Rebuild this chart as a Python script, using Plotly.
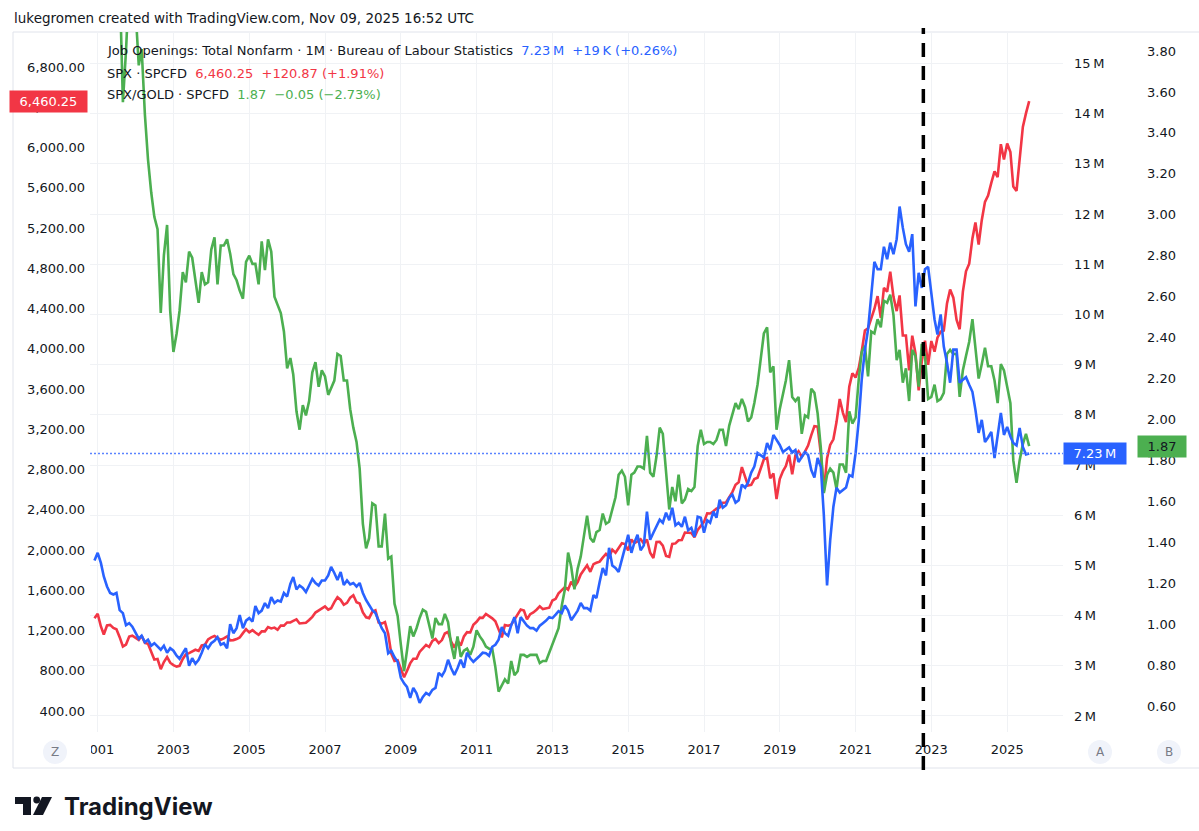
import pandas as pd
import plotly.graph_objects as go

# monthly bars, Dec 2000 .. Aug 2025
months = pd.date_range("2000-12-01", "2025-08-01", freq="MS")

# SPX monthly close
spx = [
    1320.28,
    1366.01, 1239.94, 1160.33, 1249.46, 1255.82, 1224.42, 1211.23, 1133.58, 1040.94, 1059.78, 1139.45, 1148.08,
    1130.20, 1106.73, 1147.39, 1076.92, 1067.14, 989.82, 911.62, 916.07, 815.28, 885.76, 936.31, 879.82,
    855.70, 841.15, 848.18, 916.92, 963.59, 974.50, 990.31, 1008.01, 995.97, 1050.71, 1058.20, 1111.92,
    1131.13, 1144.94, 1126.21, 1107.30, 1120.68, 1140.84, 1101.72, 1104.24, 1114.58, 1130.20, 1173.82, 1211.92,
    1181.27, 1203.60, 1180.59, 1156.85, 1191.50, 1191.33, 1234.18, 1220.33, 1228.81, 1207.01, 1249.48, 1248.29,
    1280.08, 1280.66, 1294.83, 1310.61, 1270.09, 1270.20, 1276.66, 1303.82, 1335.85, 1377.94, 1400.63, 1418.30,
    1438.24, 1406.82, 1420.86, 1482.37, 1530.62, 1503.35, 1455.27, 1473.99, 1526.75, 1549.38, 1481.14, 1468.36,
    1378.55, 1330.63, 1322.70, 1385.59, 1400.38, 1280.00, 1267.38, 1282.83, 1166.36, 968.75, 896.24, 903.25,
    825.88, 735.09, 797.87, 872.81, 919.14, 919.32, 987.48, 1020.62, 1057.08, 1036.19, 1095.63, 1115.10,
    1073.87, 1104.49, 1169.43, 1186.69, 1089.41, 1030.71, 1101.60, 1049.33, 1141.20, 1183.26, 1180.55, 1257.64,
    1286.12, 1327.22, 1325.83, 1363.61, 1345.20, 1320.64, 1292.28, 1218.89, 1131.42, 1253.30, 1246.96, 1257.60,
    1312.41, 1365.68, 1408.47, 1397.91, 1310.33, 1362.16, 1379.32, 1406.58, 1440.67, 1412.16, 1416.18, 1426.19,
    1498.11, 1514.68, 1569.19, 1597.57, 1630.74, 1606.28, 1685.73, 1632.97, 1681.55, 1756.54, 1805.81, 1848.36,
    1782.59, 1859.45, 1872.34, 1883.95, 1923.57, 1960.23, 1930.67, 2003.37, 1972.29, 2018.05, 2067.56, 2058.90,
    1994.99, 2104.50, 2067.89, 2085.51, 2107.39, 2063.11, 2103.84, 1972.18, 1920.03, 2079.36, 2080.41, 2043.94,
    1940.24, 1932.23, 2059.74, 2065.30, 2096.95, 2098.86, 2173.60, 2170.95, 2168.27, 2126.15, 2198.81, 2238.83,
    2278.87, 2363.64, 2362.72, 2384.20, 2411.80, 2423.41, 2470.30, 2471.65, 2519.36, 2575.26, 2647.58, 2673.61,
    2823.81, 2713.83, 2640.87, 2648.05, 2705.27, 2718.37, 2816.29, 2901.52, 2913.98, 2711.74, 2760.17, 2506.85,
    2704.10, 2784.49, 2834.40, 2945.83, 2752.06, 2941.76, 2980.38, 2926.46, 2976.74, 3037.56, 3140.98, 3230.78,
    3225.52, 2954.22, 2584.59, 2912.43, 3044.31, 3100.29, 3271.12, 3500.31, 3363.00, 3269.96, 3621.63, 3756.07,
    3714.24, 3811.15, 3972.89, 4181.17, 4204.11, 4297.50, 4395.26, 4522.68, 4307.54, 4605.38, 4567.00, 4766.18,
    4515.55, 4373.94, 4530.41, 4131.93, 4132.15, 3785.38, 4130.29, 3955.00, 3585.62, 3871.98, 4080.11, 3839.50,
    4076.60, 3970.15, 4109.31, 4169.48, 4179.83, 4450.38, 4588.96, 4507.66, 4288.05, 4193.80, 4567.80, 4769.83,
    4845.65, 5096.27, 5254.35, 5035.69, 5277.51, 5460.48, 5522.30, 5648.40, 5762.48, 5705.45, 6032.38, 5881.63,
    6040.53, 5954.50, 5611.85, 5569.06, 5911.69, 6204.95, 6339.39, 6460.25,
]

# SPX/GOLD ratio
spx_gold = [
    4.84,
    5.14, 4.65, 4.50, 4.75, 4.69, 4.52, 4.56, 4.15, 3.55, 3.80, 4.14, 4.15,
    4.00, 3.73, 3.81, 3.49, 3.27, 3.11, 2.99, 2.93, 2.52, 2.80, 2.95, 2.53,
    2.33, 2.42, 2.53, 2.72, 2.67, 2.82, 2.79, 2.68, 2.57, 2.72, 2.66, 2.67,
    2.83, 2.89, 2.66, 2.85, 2.85, 2.88, 2.81, 2.71, 2.68, 2.63, 2.59, 2.77,
    2.80, 2.76, 2.76, 2.66, 2.87, 2.73, 2.88, 2.82, 2.60, 2.56, 2.52, 2.43,
    2.25, 2.30, 2.22, 2.04, 1.95, 2.07, 2.02, 2.09, 2.23, 2.28, 2.16, 2.24,
    2.21, 2.12, 2.15, 2.19, 2.32, 2.31, 2.19, 2.19, 2.05, 1.96, 1.89, 1.76,
    1.49, 1.37, 1.42, 1.59, 1.58, 1.38, 1.38, 1.54, 1.32, 1.33, 1.10, 1.04,
    0.90, 0.77, 0.87, 0.99, 0.94, 0.98, 1.03, 1.07, 1.06, 1.00, 0.93, 1.03,
    1.00, 1.00, 1.05, 1.01, 0.90, 0.83, 0.94, 0.84, 0.87, 0.88, 0.85, 0.89,
    0.97, 0.94, 0.92, 0.89, 0.88, 0.88, 0.79, 0.67, 0.70, 0.73, 0.71, 0.82,
    0.75, 0.77, 0.85, 0.85, 0.84, 0.85, 0.85, 0.85, 0.81, 0.82, 0.82, 0.86,
    0.90, 0.95, 0.98, 1.09, 1.17, 1.35, 1.28, 1.17, 1.27, 1.33, 1.44, 1.53,
    1.42, 1.40, 1.45, 1.46, 1.54, 1.49, 1.50, 1.56, 1.62, 1.73, 1.75, 1.72,
    1.58, 1.73, 1.74, 1.77, 1.77, 1.76, 1.92, 1.74, 1.72, 1.82, 1.96, 1.93,
    1.74, 1.56, 1.67, 1.60, 1.73, 1.59, 1.61, 1.66, 1.65, 1.67, 1.87, 1.95,
    1.88, 1.89, 1.89, 1.88, 1.90, 1.95, 1.95, 1.87, 1.97, 2.03, 2.08, 2.05,
    2.10, 2.06, 1.99, 2.01, 2.08, 2.17, 2.30, 2.42, 2.45, 2.23, 2.26, 1.95,
    2.05, 2.12, 2.19, 2.29, 2.11, 2.09, 2.11, 1.93, 2.02, 2.01, 2.15, 2.13,
    2.03, 1.86, 1.64, 1.73, 1.76, 1.74, 1.66, 1.78, 1.78, 1.74, 2.04, 1.98,
    2.01, 2.20, 2.33, 2.36, 2.21, 2.43, 2.42, 2.49, 2.45, 2.58, 2.57, 2.61,
    2.51, 2.29, 2.34, 2.18, 2.25, 2.09, 2.34, 2.31, 2.16, 2.37, 2.31, 2.10,
    2.11, 2.17, 2.09, 2.10, 2.13, 2.32, 2.34, 2.32, 2.32, 2.11, 2.24, 2.31,
    2.38, 2.49, 2.36, 2.20, 2.27, 2.35, 2.26, 2.26, 2.19, 2.08, 2.27, 2.24,
    2.16, 2.08, 1.80, 1.69, 1.80, 1.88, 1.93, 1.87,
]

# Job openings, total nonfarm (thousands)
job_openings = [
    5100,
    5250, 5050, 4780, 4580, 4450, 4420, 4450, 4110, 4050, 3810, 3850, 3780,
    3650, 3540, 3600, 3470, 3520, 3400, 3450, 3380, 3320, 3400, 3260, 3350,
    3300, 3200, 3140, 3250, 3350, 3000, 3150, 3040, 3120, 3260, 3430, 3350,
    3450, 3500, 3570, 3420, 3450, 3350, 3830, 3650, 3750, 4010, 3750, 3900,
    3950, 3880, 4190, 4050, 4100, 4250, 4150, 4370, 4250, 4300, 4280, 4450,
    4380, 4630, 4770, 4520, 4600, 4550, 4470, 4600, 4730, 4650, 4600, 4700,
    4700, 4800, 4970, 4850, 4710, 4870, 4610, 4700, 4620, 4650, 4580, 4650,
    4450, 4310, 4200, 4110, 4050, 3900, 3750, 3650, 3250, 3300, 3170, 3080,
    2760, 2650, 2580, 2360, 2560, 2450, 2260, 2380, 2460, 2420, 2520, 2560,
    2860, 2800, 2900, 3120, 2950, 2820, 2950, 3120, 2960, 3260, 3150, 3080,
    3150, 3200, 3260, 3250, 3200, 3380, 3420, 3520, 3770, 3650, 3600, 3810,
    3970, 3650, 3970, 3870, 3800, 3750, 3750, 3700, 3800, 3850, 3900, 3970,
    3950, 4020, 4090, 4050, 4200, 4100, 3910, 4000, 4100, 4250, 4150, 4150,
    4100, 4410, 4350, 4670, 4950, 4800, 5350, 5000, 4950, 4870, 5100, 5350,
    5610, 5250, 5450, 5610, 5300, 5400, 6070, 5510, 5650, 5770, 5910, 5850,
    6050, 5900, 6150, 5800, 5850, 5770, 5970, 5700, 5750, 5570, 5970, 5950,
    5650, 5900, 5850, 6070, 5950, 6310, 6150, 6200, 6350, 6410, 6250, 6300,
    6610, 6550, 6650, 6850, 6970, 7240, 7200, 7150, 7440, 7300, 7600, 7500,
    7400, 7260, 7300, 7350, 7250, 7300, 7060, 7150, 7260, 7200, 6900, 6750,
    7140, 6960, 6000, 4600, 5500, 6170, 6550, 6450, 6500, 6550, 6800, 6770,
    7240, 7900, 8700, 9300, 9700, 10350, 11050, 10900, 10900, 11350, 11100, 11430,
    11200, 11500, 12150, 11730, 11400, 11250, 11600, 10160, 10830, 10530, 10900, 10950,
    10440, 9900, 9600, 10000, 9360, 9040, 8640, 9300, 9300, 8640, 8700, 8750,
    8600, 8460, 8100, 7640, 7900, 7460, 7550, 7660, 7140, 7600, 8040, 7600,
    7760, 7570, 7440, 7390, 7740, 7360, 7210, 7230,
]

spx_ticks = list(range(400, 6801, 400))
jolts_ticks = list(range(2000, 15001, 1000))
ratio_ticks = [0.6, 0.8, 1.0, 1.2, 1.4, 1.6, 1.8, 2.0, 2.2, 2.4, 2.6, 2.8, 3.0, 3.2, 3.4, 3.6, 3.8]
year_ticks = [f"{y}-01-01" for y in range(2001, 2026, 2)]

RED = "#f23645"
BLUE = "#2962ff"
GREEN = "#4caf50"
TXT = "#131722"
GRID = "#f0f2f5"
FONT = "DejaVu Sans"


# pixel -> paper helpers (plot area: x 90..1063, y 32..732)
def fx(px):
    return (px - 90) / 1109


def fy(py):
    return (732 - py) / 700


fig = go.Figure()

fig.add_trace(go.Scatter(x=months, y=spx, mode="lines", yaxis="y",
                         line=dict(color=RED, width=2.6), name="SPX"))
fig.add_trace(go.Scatter(x=months, y=spx_gold, mode="lines", yaxis="y2",
                         line=dict(color=GREEN, width=2.6), name="SPX/GOLD"))
fig.add_trace(go.Scatter(x=months, y=job_openings, mode="lines", yaxis="y3",
                         line=dict(color=BLUE, width=2.6), name="Job Openings"))

tickfont = dict(family=FONT, size=13, color=TXT)

fig.update_layout(
    width=1199, height=831,
    margin=dict(l=90, r=0, t=32, b=99),
    paper_bgcolor="white", plot_bgcolor="white",
    showlegend=False,
    font=dict(family=FONT, color=TXT),
    xaxis=dict(
        type="date", domain=[0, fx(1063)],
        range=["2000-10-19", "2026-06-23"],
        tickvals=year_ticks, tickformat="%Y",
        showgrid=True, gridcolor=GRID, gridwidth=1,
        zeroline=False, showline=False, ticks="",
        tickfont=tickfont, ticklabelstandoff=8,
    ),
    yaxis=dict(
        range=[191, 7148], tickvals=spx_ticks, tickformat=",.2f",
        showgrid=False, zeroline=False, showline=False, ticks="",
        tickfont=tickfont, ticklabelstandoff=4,
    ),
    yaxis2=dict(
        overlaying="y", side="right", anchor="free", position=fx(1140),
        range=[0.473, 3.893], tickvals=ratio_ticks, tickformat=".2f",
        showgrid=False, zeroline=False, showline=False, ticks="",
        tickfont=tickfont, ticklabelstandoff=6,
    ),
    yaxis3=dict(
        overlaying="y", side="right", anchor="x",
        range=[1681, 15628], tickvals=jolts_ticks,
        ticktext=[f"{v // 1000}\u2009M" for v in jolts_ticks],
        showgrid=True, gridcolor=GRID, gridwidth=1,
        zeroline=False, showline=False, ticks="",
        tickfont=tickfont, ticklabelstandoff=10,
    ),
)

shapes = [
    # chart frame
    dict(type="rect", xref="paper", yref="paper", x0=fx(13), x1=fx(1205), y0=fy(768), y1=fy(32),
         line=dict(color="#e0e3eb", width=1), layer="below"),
    # hide left part of the first year label
    dict(type="rect", xref="paper", yref="paper", x0=fx(68), x1=fx(91), y0=fy(765), y1=fy(740),
         fillcolor="white", line=dict(width=0), layer="above"),
    # vertical dashed marker
    dict(type="line", xref="x", yref="paper", x0="2022-10-16", x1="2022-10-16", y0=fy(770), y1=fy(28),
         line=dict(color="black", width=3.5, dash="14px,9px")),
    # last value line for job openings
    dict(type="line", xref="paper", yref="y3", x0=0, x1=fx(1063), y0=7230, y1=7230,
         line=dict(color="#5b84ff", width=1.3, dash="2px,2px")),
]
# Z / A / B scale buttons
for cx in (55, 1100, 1169):
    shapes.append(dict(type="circle", xref="paper", yref="paper",
                       x0=fx(cx - 12), x1=fx(cx + 12), y0=fy(764), y1=fy(740),
                       fillcolor="#f0f3fa", line=dict(width=0), layer="above"))


# TradingView logo mark
def path(points):
    return "M " + " L ".join(f"{fx(x):.5f},{fy(y):.5f}" for x, y in points) + " Z"


logo = "#131722"
shapes.append(dict(type="path", xref="paper", yref="paper", layer="above",
                   path=path([(15, 797), (31, 797), (31, 815), (23, 815), (23, 804), (15, 804)]),
                   fillcolor=logo, line=dict(width=0)))
shapes.append(dict(type="circle", xref="paper", yref="paper", layer="above",
                   x0=fx(33.3), x1=fx(40.1), y0=fy(803.4), y1=fy(796.6),
                   fillcolor=logo, line=dict(width=0)))
shapes.append(dict(type="path", xref="paper", yref="paper", layer="above",
                   path=path([(42, 797), (52, 797), (43, 815), (33, 815)]),
                   fillcolor=logo, line=dict(width=0)))
fig.update_layout(shapes=shapes)

annotations = [
    dict(text="lukegromen created with TradingView.com, Nov 09, 2025 16:52 UTC",
         x=fx(12), y=fy(18), xanchor="left", yanchor="middle", font=dict(size=13.5, color=TXT)),
    dict(text="Job Openings: Total Nonfarm · 1M · Bureau of Labour Statistics  "
              f"<span style='color:{BLUE}'>7.23\u2009M  +19\u2009K (+0.26%)</span>",
         x=fx(105), y=fy(51), xanchor="left", yanchor="middle", font=dict(size=13, color=TXT)),
    dict(text=f"SPX · SPCFD  <span style='color:{RED}'>6,460.25  +120.87 (+1.91%)</span>",
         x=fx(105), y=fy(73), xanchor="left", yanchor="middle", font=dict(size=13, color=TXT)),
    dict(text=f"SPX/GOLD · SPCFD  <span style='color:{GREEN}'>1.87  \u22120.05 (\u22122.73%)</span>",
         x=fx(105), y=fy(95), xanchor="left", yanchor="middle", font=dict(size=13, color=TXT)),
    # last value tags
    dict(text="\u20026,460.25\u2002", xref="paper", yref="y", x=fx(88), y=6460.25,
         xanchor="right", yanchor="middle", bgcolor=RED, borderpad=3, font=dict(size=13, color="white")),
    dict(text="\u20027.23\u2009M\u2002", xref="paper", yref="y3", x=fx(1063), y=7230,
         xanchor="left", yanchor="middle", bgcolor=BLUE, borderpad=3, font=dict(size=13, color="white")),
    dict(text="\u20021.87\u2002", xref="paper", yref="y2", x=fx(1137), y=1.87,
         xanchor="left", yanchor="middle", bgcolor=GREEN, borderpad=3, font=dict(size=13, color=TXT)),
    # logo word
    dict(text="<b>TradingView</b>", x=fx(62), y=fy(806), xanchor="left", yanchor="middle",
         font=dict(family="Inter", size=24, color=logo)),
]
for cx, letter in ((55, "Z"), (1100, "A"), (1169, "B")):
    annotations.append(dict(text=letter, x=fx(cx), y=fy(752), xanchor="center", yanchor="middle",
                            font=dict(size=12, color="#787b86")))
for a in annotations:
    a.setdefault("xref", "paper")
    a.setdefault("yref", "paper")
    a["showarrow"] = False
fig.update_layout(annotations=annotations)

fig.write_html("out.html", config={"displayModeBar": False},
               post_script="document.body.style.margin = '0px';")
